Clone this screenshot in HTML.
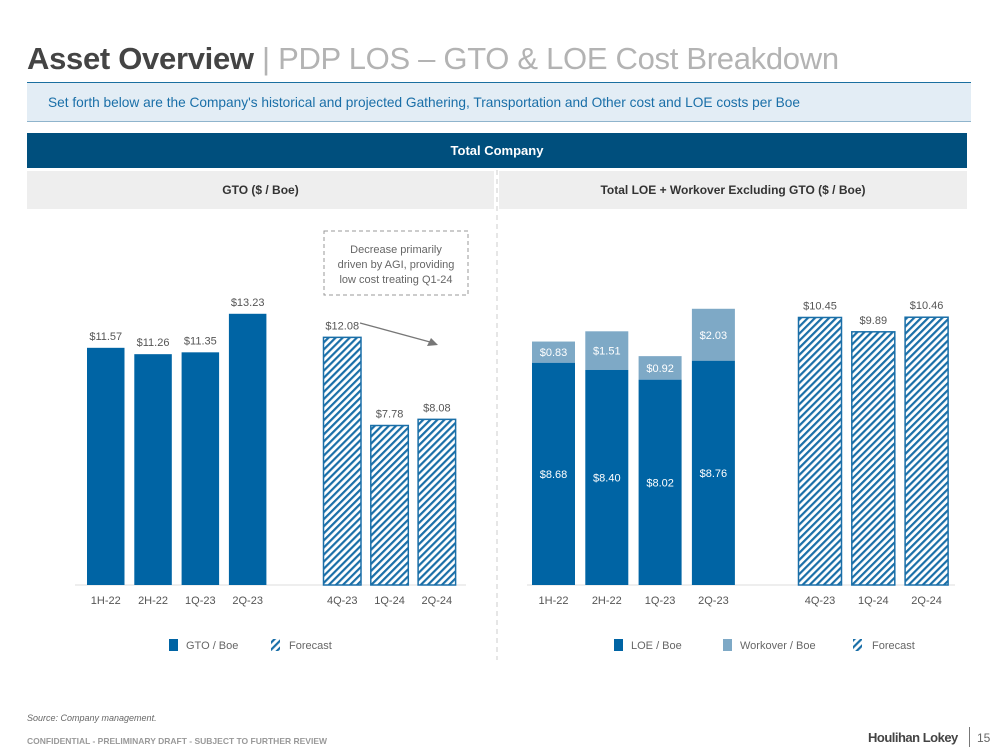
<!DOCTYPE html>
<html><head><meta charset="utf-8">
<style>
body{margin:0;width:999px;height:750px;background:#fff;font-family:"Liberation Sans",Arial,sans-serif;overflow:hidden;position:relative}
.abs{position:absolute}
</style></head><body>
<div class="abs" style="left:27px;top:41px;font-size:31px;line-height:36px;white-space:nowrap;color:#b3b3b3;letter-spacing:-0.3px"><b style="color:#444">Asset Overview</b> | PDP LOS – GTO &amp; LOE Cost Breakdown</div>
<div class="abs" style="left:27px;top:82px;width:944px;height:38px;background:#e3edf5;border-top:1.5px solid #1a6fa0;border-bottom:1.5px solid #8fb4cc"></div>
<div class="abs" style="left:48px;top:95px;font-size:13.7px;color:#1a6fa8;white-space:nowrap">Set forth below are the Company's historical and projected Gathering, Transportation and Other cost and LOE costs per Boe</div>
<div class="abs" style="left:27px;top:133px;width:940px;height:35px;background:#004f7d;color:#fff;font-weight:bold;font-size:13px;text-align:center;line-height:35px">Total Company</div>
<div class="abs" style="left:27px;top:171px;width:467px;height:38px;background:#eeeeee;color:#333;font-weight:bold;font-size:12px;text-align:center;line-height:38px">GTO ($ / Boe)</div>
<div class="abs" style="left:499px;top:171px;width:468px;height:38px;background:#eeeeee;color:#333;font-weight:bold;font-size:12px;text-align:center;line-height:38px">Total LOE + Workover Excluding GTO ($ / Boe)</div>

<svg class="abs" style="left:0;top:0" width="999" height="750" id="chart">
<defs>
<pattern id="hatch" patternUnits="userSpaceOnUse" width="5" height="5" patternTransform="rotate(45)">
<rect width="5" height="5" fill="#fff"/><rect width="2.2" height="5" fill="#1a6fa8"/>
</pattern>
</defs>
<line x1="497" y1="170" x2="497" y2="660" stroke="#ccc" stroke-dasharray="5,4"/>
<g id="left"></g><g id="right"></g>
<rect x="324" y="231" width="144" height="64" fill="#fff" stroke="#999" stroke-dasharray="4,3"/>
<text x="396" y="253" font-size="11" fill="#666" text-anchor="middle"><tspan x="396">Decrease primarily</tspan><tspan x="396" dy="15">driven by AGI, providing</tspan><tspan x="396" dy="15">low cost treating Q1-24</tspan></text>
<line x1="360" y1="323" x2="430" y2="342" stroke="#777" stroke-width="1.3"/>
<polygon points="438,345 427,346 431,338" fill="#777"/>
<g font-size="11" fill="#666">
<rect x="169" y="639" width="9" height="12" fill="#0064a4"/>
<text x="186" y="649">GTO / Boe</text>
<rect x="271" y="639" width="9" height="12" fill="url(#hatch)"/>
<text x="289" y="649">Forecast</text>
<rect x="614" y="639" width="9" height="12" fill="#0064a4"/>
<text x="631" y="649">LOE / Boe</text>
<rect x="723" y="639" width="9" height="12" fill="#7ea9c6"/>
<text x="740" y="649">Workover / Boe</text>
<rect x="853" y="639" width="9" height="12" fill="url(#hatch)"/>
<text x="872" y="649">Forecast</text>
</g>
</svg>

<div class="abs" style="left:27px;top:713px;font-size:9px;font-style:italic;color:#666">Source: Company management.</div>
<div class="abs" style="left:27px;top:736px;font-size:8.5px;font-weight:bold;color:#999">CONFIDENTIAL - PRELIMINARY DRAFT - SUBJECT TO FURTHER REVIEW</div>
<div class="abs" style="left:868px;top:730px;font-size:13px;font-weight:bold;color:#444;letter-spacing:-0.5px">Houlihan Lokey</div>
<div class="abs" style="left:969px;top:727px;width:1px;height:20px;background:#777"></div>
<div class="abs" style="left:977px;top:731px;font-size:12px;color:#666">15</div>

<script>
const gtoCats=["1H-22","2H-22","1Q-23","2Q-23","4Q-23","1Q-24","2Q-24"];
const gtoVals=[11.57,11.26,11.35,13.23,12.08,7.78,8.08];
const gtoForecast=[false,false,false,false,true,true,true];
const loeCats=["1H-22","2H-22","1Q-23","2Q-23","4Q-23","1Q-24","2Q-24"];
const loeVals=[8.68,8.40,8.02,8.76,null,null,null];
const workoverVals=[0.83,1.51,0.92,2.03,null,null,null];
const forecastTotals=[null,null,null,null,10.45,9.89,10.46];

const NS="http://www.w3.org/2000/svg";
function mk(tag,attrs,parent,txt){const e=document.createElementNS(NS,tag);for(const k in attrs)e.setAttribute(k,attrs[k]);if(txt!=null)e.textContent=txt;parent.appendChild(e);return e;}
const base=585;
const lx=i=>87+47.3*(i<4?i:i+1), lw=37.5, ly=v=>base-v*20.5;
const L=document.getElementById('left');
mk('line',{x1:75,x2:466,y1:base,y2:base,stroke:'#ddd'},L);
gtoCats.forEach((c,i)=>{
  const r=mk('rect',{x:lx(i),y:ly(gtoVals[i]),width:lw,height:base-ly(gtoVals[i]),fill:gtoForecast[i]?'url(#hatch)':'#0064a4',stroke:gtoForecast[i]?'#1a6fa8':'none','stroke-width':1.5},L);
  
  
  const t=mk('text',{x:lx(i)+lw/2,y:ly(gtoVals[i])-8,'font-size':11,fill:'#555','text-anchor':'middle'},L,'$'+gtoVals[i].toFixed(2));
  
  
  const a=mk('text',{x:lx(i)+lw/2,y:604,'font-size':11,fill:'#555','text-anchor':'middle'},L,c);
  
  
});
const rx=i=>532+53.3*(i<4?i:i+1), rw=43, ry=v=>base-v*25.6;
const R=document.getElementById('right');
mk('line',{x1:527,x2:955,y1:base,y2:base,stroke:'#ddd'},R);
loeCats.forEach((c,i)=>{
  const cx=rx(i)+rw/2;
  if(loeVals[i]!=null){
    const tot=loeVals[i]+workoverVals[i];
    const w=mk('rect',{x:rx(i),y:ry(tot),width:rw,height:ry(loeVals[i])-ry(tot),fill:'#7ea9c6'},R);
    
    
    const l=mk('rect',{x:rx(i),y:ry(loeVals[i]),width:rw,height:base-ry(loeVals[i]),fill:'#0064a4'},R);
    
    
    const wt=mk('text',{x:cx,y:(ry(tot)+ry(loeVals[i]))/2+4,'font-size':11,fill:'#fff','text-anchor':'middle'},R,'$'+workoverVals[i].toFixed(2));
    
    
    const lt=mk('text',{x:cx,y:(ry(loeVals[i])+base)/2+4,'font-size':11,fill:'#fff','text-anchor':'middle'},R,'$'+loeVals[i].toFixed(2));
    
    
  } else {
    const f=mk('rect',{x:rx(i),y:ry(forecastTotals[i]),width:rw,height:base-ry(forecastTotals[i]),fill:'url(#hatch)',stroke:'#1a6fa8','stroke-width':1.5},R);
    
    
    const ft=mk('text',{x:cx,y:ry(forecastTotals[i])-8,'font-size':11,fill:'#555','text-anchor':'middle'},R,'$'+forecastTotals[i].toFixed(2));
    
    
  }
  const a=mk('text',{x:cx,y:604,'font-size':11,fill:'#555','text-anchor':'middle'},R,c);
  
  
});
</script>
</body></html>
